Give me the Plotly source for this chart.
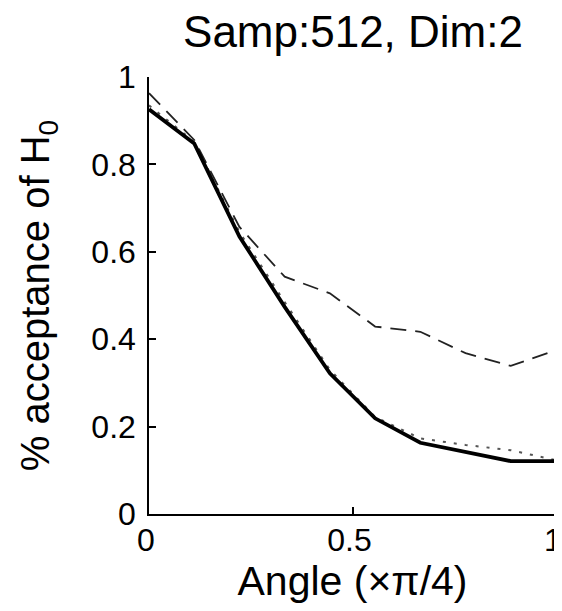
import plotly.graph_objects as go

angles = [0, 1/9, 2/9, 3/9, 4/9, 5/9, 6/9, 7/9, 8/9, 1]
solid = [0.926, 0.848, 0.635, 0.474, 0.322, 0.219, 0.163, 0.143, 0.121, 0.121]
dotted = [0.935, 0.852, 0.645, 0.485, 0.330, 0.222, 0.173, 0.158, 0.146, 0.123]
dashed = [0.963, 0.856, 0.657, 0.543, 0.505, 0.429, 0.417, 0.368, 0.339, 0.375]

xticks = [0, 0.5, 1]
xtick_text = ["0", "0.5", "1"]
yticks = [0, 0.2, 0.4, 0.6, 0.8, 1]
ytick_text = ["0", "0.2", "0.4", "0.6", "0.8", "1"]

font = "Liberation Sans, Arial, sans-serif"
# page has an 8px body margin; size the figure to fill the rest of the window
W, H = 554, 603

fig = go.Figure()
fig.add_trace(go.Scatter(x=angles, y=dashed, mode="lines",
                         line=dict(color="#222", width=1.8, dash="16px,9px")))
fig.add_trace(go.Scatter(x=angles, y=dotted, mode="lines",
                         line=dict(color="#555", width=2, dash="3px,8px")))
fig.add_trace(go.Scatter(x=angles, y=solid, mode="lines",
                         line=dict(color="black", width=3.8)))

fig.update_layout(
    width=W, height=H,
    margin=dict(l=141, r=6, t=69, b=97, autoexpand=False),
    paper_bgcolor="white", plot_bgcolor="white",
    showlegend=False,
    font=dict(family=font, color="black", size=32),
    title=dict(text="Samp:512, Dim:2", x=345 / W, xanchor="center", xref="container",
               y=1 - 24 / H, yanchor="middle", yref="container", font=dict(size=44)),
)
fig.update_xaxes(range=[0, 1], tickvals=xticks, ticktext=xtick_text,
                 ticks="inside", ticklen=7, tickcolor="black", tickwidth=1.5,
                 showline=True, linecolor="black", linewidth=1.5,
                 showgrid=False, zeroline=False, automargin=False,
                 ticklabeloverflow="allow", ticklabelstandoff=-3, ticklabelshift=-3,
                 tickfont=dict(size=32),
                 title=dict(text="Angle (×π/4)", font=dict(size=41), standoff=7))
fig.update_yaxes(range=[0, 1], tickvals=yticks, ticktext=ytick_text,
                 ticks="inside", ticklen=7, tickcolor="black", tickwidth=1.5,
                 showline=True, linecolor="black", linewidth=1.5,
                 showgrid=False, zeroline=False, automargin=False,
                 ticklabeloverflow="allow", ticklabelstandoff=5,
                 tickfont=dict(size=32),
                 title=dict(text="% acceptance of H<sub>0</sub>", font=dict(size=40), standoff=29))

fig.write_html("out.html")
